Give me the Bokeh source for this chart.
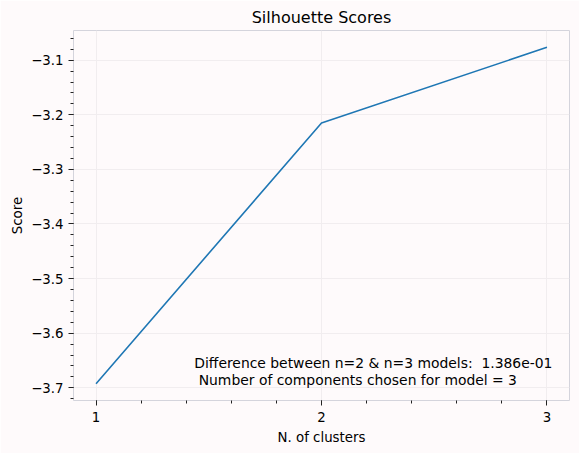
from bokeh.plotting import figure
from bokeh.models import SingleIntervalTicker, CustomJSTickFormatter, Label, Range1d
from bokeh.embed import file_html
from bokeh.resources import INLINE

clusters = [1, 2, 3]
scores = [-3.6925, -3.2150, -3.0764]
title = "Silhouette Scores"
xlabel = "N. of clusters"
ylabel = "Score"
note1 = "Difference between n=2 & n=3 models:  1.386e-01"
note2 = " Number of components chosen for model = 3"

BG = "#fefafb"
FONT = "DejaVu Sans"

ymin, ymax = min(scores), max(scores)
ypad = (ymax - ymin) * 0.05

p = figure(width=579, height=453, output_backend="svg", toolbar_location=None,
           x_range=Range1d(0.9, 3.1), y_range=Range1d(ymin - ypad, ymax + ypad),
           min_border_left=73, min_border_right=10, min_border_top=30, min_border_bottom=53)
p.background_fill_color = BG
p.border_fill_color = BG
p.outline_line_color = "#d4d4dc"
p.outline_line_width = 1

p.title.text = title
p.title.align = "center"
p.title.text_font = FONT
p.title.text_font_size = "16px"
p.title.text_font_style = "normal"
p.title.text_color = "#000000"
p.title.offset = 0
p.title.standoff = 7

p.line(clusters, scores, line_color="#1f77b4", line_width=1.6)

p.xaxis.ticker = SingleIntervalTicker(interval=1, num_minor_ticks=5)
p.yaxis.ticker = SingleIntervalTicker(interval=0.1, num_minor_ticks=5)
p.yaxis.formatter = CustomJSTickFormatter(code="return tick.toFixed(1).replace('-', '\u2212');")
p.xaxis.formatter = CustomJSTickFormatter(code="return tick.toFixed(0);")

for ax in (p.xaxis[0], p.yaxis[0]):
    ax.axis_line_color = None
    ax.major_tick_line_color = "#222222"
    ax.minor_tick_line_color = "#222222"
    ax.major_tick_out = 5
    ax.major_tick_in = 0
    ax.minor_tick_out = 3
    ax.minor_tick_in = 0
    ax.major_label_text_font = FONT
    ax.major_label_text_font_size = "13.33px"
    ax.major_label_text_color = "#000000"
    ax.axis_label_text_font = FONT
    ax.axis_label_text_font_size = "13.33px"
    ax.axis_label_text_font_style = "normal"
    ax.axis_label_text_color = "#000000"

p.xaxis.axis_label = xlabel
p.yaxis.axis_label = ylabel
p.xaxis.major_label_standoff = 6
p.yaxis.major_label_standoff = 5
p.xaxis.axis_label_standoff = 5
p.yaxis.axis_label_standoff = 3

p.xgrid.grid_line_color = "#f1edef"
p.ygrid.grid_line_color = "#f1edef"
p.xgrid.grid_line_width = 1
p.ygrid.grid_line_width = 1

for txt, yy in ((note1, -3.6555), (note2, -3.6850)):
    shown = txt.replace("  ", " \u00a0")
    if shown.startswith(" "):
        shown = "\u00a0" + shown[1:]
    p.add_layout(Label(x=1.4356, y=yy, text=shown, text_align="left", text_baseline="middle",
                       text_font=FONT, text_font_size="13.9px", text_color="#000000"))

open("out.html", "w").write(file_html(p, INLINE))
